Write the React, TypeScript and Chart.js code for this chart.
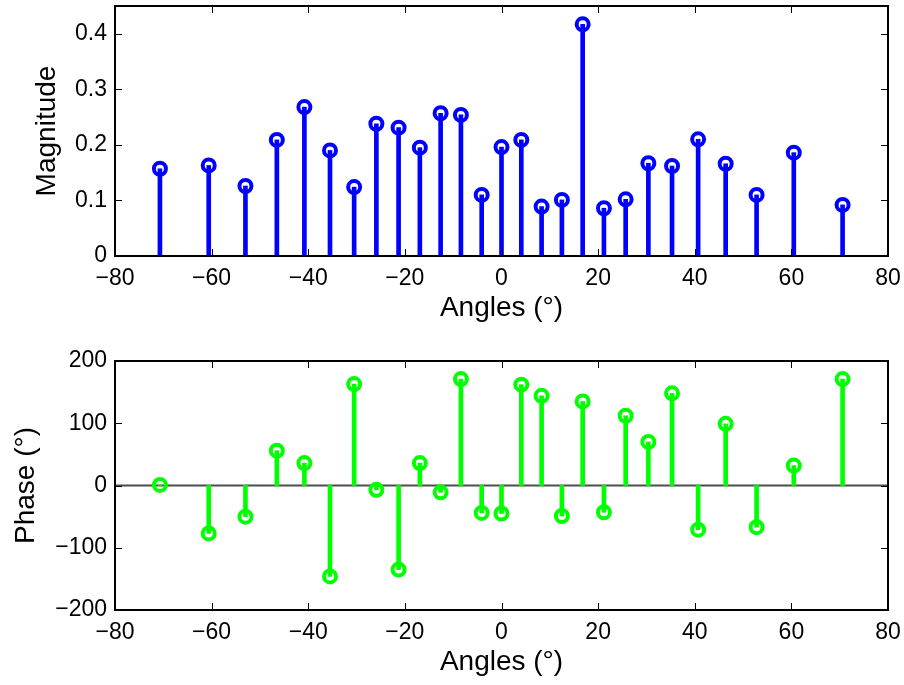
import React, { useEffect, useRef } from 'react';
import { Chart, registerables } from 'chart.js';

Chart.register(...registerables);

// ---- data ----
const angles = [
  -70.7, -60.6, -53.0, -46.5, -40.8, -35.5, -30.5, -25.9, -21.3, -16.9, -12.6, -8.4, -4.1,
  0, 4.1, 8.3, 12.5, 16.8, 21.2, 25.7, 30.4, 35.3, 40.7, 46.4, 52.8, 60.5, 70.6,
];
const magnitude = [
  0.157, 0.163, 0.126, 0.209, 0.268, 0.19, 0.124, 0.238, 0.231, 0.195, 0.257, 0.254, 0.11,
  0.196, 0.209, 0.089, 0.101, 0.417, 0.086, 0.102, 0.167, 0.162, 0.21, 0.166, 0.11, 0.186, 0.092,
];
const phase = [
  1, -77, -50, 56, 36, -146, 163, -7, -135, 36, -11, 171, -44,
  -45, 162, 144, -49, 135, -43, 112, 70, 148, -71, 99, -67, 32, 171,
];
const xTicks = [-80, -60, -40, -20, 0, 20, 40, 60, 80];
const magTicks = [0, 0.1, 0.2, 0.3, 0.4];
const phaseTicks = [-200, -100, 0, 100, 200];

const FONT = "'Liberation Sans', Arial, Helvetica, sans-serif";
const fmt = (v: number) => (v < 0 ? '\u2212' + String(Math.abs(v)) : String(v));

const framePlugin = {
  id: 'frame',
  beforeDatasetsDraw(chart: any, _a: any, opts: any) {
    if (!opts || !opts.zeroLine) return;
    const { ctx, chartArea: a, scales } = chart;
    const py = scales.y.getPixelForValue(0);
    ctx.save();
    ctx.strokeStyle = '#4d4d4d';
    ctx.lineWidth = 2;
    ctx.beginPath();
    ctx.moveTo(a.left, py);
    ctx.lineTo(a.right, py);
    ctx.stroke();
    ctx.restore();
  },
  afterDraw(chart: any) {
    const { ctx, chartArea: a, scales } = chart;
    const x = scales.x;
    const y = scales.y;
    const tl = 7;
    ctx.save();
    ctx.strokeStyle = '#000';
    ctx.lineWidth = 1;
    ctx.beginPath();
    x.ticks.forEach((t: any) => {
      const px = Math.round(x.getPixelForValue(t.value)) + 0.5;
      ctx.moveTo(px, a.bottom);
      ctx.lineTo(px, a.bottom - tl);
      ctx.moveTo(px, a.top);
      ctx.lineTo(px, a.top + tl);
    });
    y.ticks.forEach((t: any) => {
      const py = Math.round(y.getPixelForValue(t.value)) + 0.5;
      ctx.moveTo(a.left, py);
      ctx.lineTo(a.left + tl, py);
      ctx.moveTo(a.right, py);
      ctx.lineTo(a.right - tl, py);
    });
    ctx.stroke();
    ctx.lineWidth = 2;
    ctx.strokeRect(a.left, a.top, a.right - a.left, a.bottom - a.top);
    ctx.restore();
  },
};

type Props = {
  top: number;
  height: number;
  values: number[];
  color: string;
  yMin: number;
  yMax: number;
  yTicks: number[];
  yTitle: string;
  yTitlePad: number;
  xTitlePad: number;
  xHeight: number;
  padTop: number;
  zeroLine: boolean;
};

function StemChart(p: Props) {
  const ref = useRef<HTMLCanvasElement>(null);
  useEffect(() => {
    const pts = angles.map((a, i) => ({ x: a, y: p.values[i] }));
    const chart = new Chart(ref.current as HTMLCanvasElement, {
      type: 'bar',
      data: {
        datasets: [
          {
            type: 'line',
            data: pts,
            showLine: false,
            borderColor: p.color,
            backgroundColor: 'rgba(0,0,0,0)',
            pointRadius: 6,
            pointHoverRadius: 6,
            pointBorderWidth: 4,
            pointBorderColor: p.color,
            pointBackgroundColor: 'rgba(0,0,0,0)',
          } as any,
          {
            type: 'bar',
            data: pts,
            backgroundColor: p.color,
            borderWidth: 0,
            barThickness: 4,
          } as any,
        ],
      },
      options: {
        responsive: false,
        animation: false,
        events: [],
        layout: { padding: { top: p.padTop, right: 16, left: 0, bottom: 0 } },
        plugins: {
          legend: { display: false },
          tooltip: { enabled: false },
          frame: { zeroLine: p.zeroLine },
        } as any,
        scales: {
          x: {
            type: 'linear',
            min: -80,
            max: 80,
            offset: false,
            grid: { display: false, drawTicks: false, offset: false },
            border: { display: false },
            afterBuildTicks: (s: any) => {
              s.ticks = xTicks.map((v) => ({ value: v }));
            },
            afterFit: (s: any) => {
              s.height = p.xHeight;
              s.paddingLeft = 0;
              s.paddingRight = 0;
            },
            ticks: {
              autoSkip: false,
              maxRotation: 0,
              padding: 9,
              color: '#000',
              font: { family: FONT, size: 23 },
              callback: (v: any) => fmt(Number(v)),
            },
            title: {
              display: true,
              text: 'Angles (°)',
              color: '#000',
              font: { family: FONT, size: 28 },
              padding: { top: 0, bottom: p.xTitlePad },
            },
          },
          y: {
            type: 'linear',
            min: p.yMin,
            max: p.yMax,
            grid: { display: false, drawTicks: false },
            border: { display: false },
            afterBuildTicks: (s: any) => {
              s.ticks = p.yTicks.map((v) => ({ value: v }));
            },
            afterFit: (s: any) => {
              s.width = 115;
              s.paddingTop = 0;
              s.paddingBottom = 0;
            },
            ticks: {
              padding: 8,
              color: '#000',
              font: { family: FONT, size: 23 },
              callback: (v: any) => fmt(Number(v)),
            },
            title: {
              display: true,
              text: p.yTitle,
              color: '#000',
              font: { family: FONT, size: 28 },
              padding: { top: p.yTitlePad, bottom: 0 },
            },
          },
        },
      } as any,
      plugins: [framePlugin],
    });
    return () => chart.destroy();
  }, []);
  return (
    <canvas
      ref={ref}
      width={904}
      height={p.height}
      style={{ position: 'absolute', left: 0, top: p.top, width: 904, height: p.height }}
    />
  );
}

export default function App() {
  return (
    <div
      style={{
        position: 'absolute',
        left: 0,
        top: 0,
        width: 904,
        height: 685,
        background: '#fff',
        overflow: 'hidden',
      }}
    >
      <StemChart
        top={-4}
        height={339}
        values={magnitude}
        color="#0000ff"
        yMin={0}
        yMax={0.45}
        yTicks={magTicks}
        yTitle="Magnitude"
        yTitlePad={30}
        xTitlePad={10}
        xHeight={79}
        padTop={10}
        zeroLine={false}
      />
      <StemChart
        top={340}
        height={345}
        values={phase}
        color="#00ff00"
        yMin={-200}
        yMax={200}
        yTicks={phaseTicks}
        yTitle="Phase (°)"
        yTitlePad={9}
        xTitlePad={6}
        xHeight={75}
        padTop={21}
        zeroLine={true}
      />
    </div>
  );
}
